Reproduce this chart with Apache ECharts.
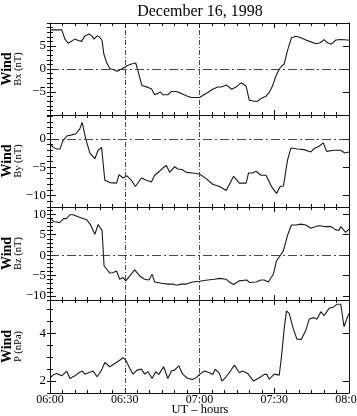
<!DOCTYPE html>
<html>
<head>
<meta charset="utf-8">
<script src="https://cdn.jsdelivr.net/npm/echarts@6/dist/echarts.min.js"></script>
<style>
    html, body { margin: 0; padding: 0; background: #fff; overflow: hidden; }
    #main { width: 357px; height: 416px; }
</style>
</head>
<body>
<div id="main"></div>
<script type="text/javascript">
    // minutes after 06:00 UT
    var bxTime = [0, 4.7, 6, 7.3, 10, 11.3, 12.7, 14, 15.7, 17, 17.7, 18.9, 20, 20.9, 21.6, 22.7, 24, 25.3, 26.9, 28.3, 30, 30.9, 32.7, 34.4, 35.3, 36.9, 39.3, 40.7, 42, 43.3, 44.3, 45.3, 47.3, 48.7, 50.7, 52.7, 54.7, 56.7, 60, 63.3, 65.3, 67.3, 68.7, 70.9, 72.9, 74.7, 76.7, 78.7, 80, 82, 83.3, 84.7, 86.7, 88, 89.3, 90.7, 92, 92.9, 94, 95.3, 96.9, 98.7, 100.7, 102.7, 104.7, 106.7, 108.4, 110, 111.3, 112.9, 114.7, 116.7, 119.3, 120];
    var bxValue = [8.5, 8.5, 6.5, 5.6, 6.5, 6.2, 6.0, 7.2, 7.6, 7.1, 6.5, 7.2, 6.9, 6.2, 3.3, 1.4, 0.1, -0.1, -0.5, -0.1, 0.4, 0.7, 1.1, 1.3, -0.4, -3.6, -4.0, -4.3, -5.6, -5.3, -5.0, -5.6, -5.6, -4.9, -4.9, -5.3, -5.8, -6.2, -6.2, -5.1, -4.4, -3.9, -3.9, -3.5, -4.4, -3.9, -3.0, -3.7, -6.8, -7.0, -7.0, -6.4, -5.9, -5.1, -3.7, -1.5, 0, 0.6, 1.1, 4.0, 6.8, 7.1, 6.8, 6.3, 5.9, 5.5, 5.7, 6.4, 5.7, 5.4, 6.3, 6.4, 6.3, 6.3];

    var byTime = [0, 1.3, 2.7, 4, 5.1, 6.7, 8.7, 10.4, 12, 12.9, 14.3, 16, 18, 19.3, 20.7, 22, 24, 26.7, 27.7, 29.3, 30.9, 32.7, 34.3, 36.7, 38.7, 40.7, 42, 44, 45.6, 46.7, 48, 50, 51.3, 53, 54.7, 57.3, 60, 62.7, 65.3, 68, 70.7, 73.7, 76, 78.7, 79.7, 81.3, 82.7, 84.7, 86.7, 88.9, 90.9, 92.4, 93.7, 95.3, 96.7, 99.3, 102, 104.7, 106, 108, 109.7, 111, 114, 116.7, 118.3, 120];
    var byValue = [-0.8, -1.5, -1.8, -1.8, -0.4, 0.5, 0.7, 0.9, 1.8, 2.9, 0.1, -2.5, -3.5, -2.0, -1.5, -7.3, -7.7, -7.8, -6.3, -6.9, -6.5, -7.3, -8.4, -6.9, -7.3, -7.6, -6.4, -5.7, -5.0, -4.7, -5.9, -4.9, -5.3, -5.4, -5.9, -6.0, -6.2, -7.0, -8.0, -8.4, -9.1, -6.6, -7.8, -7.8, -6.0, -6.0, -5.7, -6.4, -6.4, -8.4, -9.6, -8.4, -8.3, -3.8, -1.6, -1.8, -1.9, -2.3, -1.7, -1.3, -0.7, -2.2, -2.0, -2.0, -2.5, -2.3];

    var bzTime = [0, 1.6, 4, 5.3, 6.7, 8, 9.3, 11.3, 13.3, 14.7, 16.3, 18, 19.3, 20.9, 21.7, 22.7, 24, 25.1, 26.7, 28, 29.3, 30.4, 32, 34, 36, 38, 39.7, 41, 42, 44.7, 47.3, 49.3, 50.7, 52.7, 54.7, 57.3, 60, 63.3, 66, 68, 70.7, 72, 73.7, 76, 79, 80, 82.7, 84.7, 86, 87.6, 89.6, 90.9, 92.3, 93.7, 95.3, 96.9, 98.7, 100.7, 102.7, 104.7, 106.7, 108, 110.3, 112.7, 114.7, 116, 116.7, 118.7, 120];
    var bzValue = [9.0, 8.2, 8.0, 8.9, 9.0, 9.9, 9.9, 9.4, 9.0, 8.7, 7.4, 5.1, 7.5, 6.0, -2.6, -3.4, -4.4, -4.3, -3.9, -5.9, -5.5, -6.3, -5.1, -3.6, -5.1, -5.9, -6.1, -4.7, -6.6, -6.9, -7.1, -7.1, -7.4, -7.1, -7.1, -6.6, -6.4, -6.1, -5.9, -5.7, -5.9, -6.6, -7.2, -6.3, -6.1, -6.7, -6.6, -6.1, -6.1, -6.6, -4.7, -1.4, -0.2, 1.1, 4.8, 7.4, 7.4, 7.6, 7.4, 6.6, 7.0, 7.2, 7.0, 7.0, 6.2, 6.1, 7.0, 5.6, 6.4];

    var pTime = [0, 1.6, 2.7, 4.7, 6.7, 8, 10, 11.7, 13, 14, 15.7, 17.3, 18.9, 20.7, 22, 24, 26, 27.7, 29.3, 30.4, 31.7, 33.3, 34.9, 36.7, 38, 39.3, 41, 42.4, 43.7, 45.6, 47.3, 48.7, 50, 51.7, 53.3, 55.3, 57.1, 58.7, 60, 62, 64, 65.3, 66.3, 68, 69, 70.7, 72.4, 74, 76, 77.3, 79.3, 81.7, 84, 86, 87.1, 88, 90, 92, 92.9, 94, 94.9, 96, 97.6, 99.1, 100.9, 102.7, 104, 106, 107.1, 108.7, 110, 112, 114, 115.1, 116.7, 118, 119.3, 120];
    var pValue = [2.14, 2.28, 2.32, 2.22, 2.42, 2.11, 2.22, 2.36, 2.42, 2.29, 2.36, 2.42, 2.18, 2.46, 2.78, 2.6, 2.74, 2.85, 2.98, 2.88, 2.6, 2.29, 2.46, 2.5, 2.29, 2.39, 2.11, 2.39, 2.28, 2.6, 2.11, 2.42, 2.46, 2.64, 2.28, 2.11, 2.07, 2.14, 2.28, 2.42, 2.35, 2.28, 2.5, 2.32, 2.0, 2.18, 2.42, 2.67, 2.35, 2.42, 2.32, 2.0, 2.14, 2.28, 2.28, 2.08, 2.29, 2.25, 3.02, 4.21, 4.94, 4.84, 4.21, 3.76, 3.75, 4.14, 4.6, 4.66, 4.59, 4.91, 4.74, 5.05, 5.12, 5.22, 5.22, 4.28, 4.66, 4.84];

    var panelNames = ['Bx (nT)', 'By (nT)', 'Bz (nT)', 'P (nPa)'];
    var xTickLabels = ['06:00', '06:30', '07:00', '07:30', '08:00'];
    var markTimes = [30, 60];

    var FONT = 'Liberation Serif, Times New Roman, serif';
    var panels = [
        { top: 23, height: 92, min: -10, max: 10, split: 4, step: 1, t: bxTime, v: bxValue, zero: true },
        { top: 115, height: 92, min: -12, max: 4.2, split: 3, step: 1, t: byTime, v: byValue, zero: true },
        { top: 207, height: 93, min: -11, max: 11.8, split: 4, step: 1, t: bzTime, v: bzValue, zero: true },
        { top: 300, height: 93, min: 1.5, max: 5.4, split: 2, step: 0.5, t: pTime, v: pValue, zero: false }
    ];

    var chart = echarts.init(document.getElementById('main'), null, { renderer: 'canvas', width: 357, height: 416 });

    var grid = [], xAxis = [], yAxis = [], series = [], graphic = [];
    var lineCol = '#111';

    function minus(v) { return String(v).replace('-', '\u2212'); }

    panels.forEach(function (p, i) {
        grid.push({ left: 50, width: 299, top: p.top, height: p.height, containLabel: false, outerBoundsMode: 'none' });

        ['bottom', 'top'].forEach(function (pos) {
            xAxis.push({
                gridIndex: i, type: 'value', position: pos, min: 0, max: 120, interval: 30,
                axisLine: { show: true, onZero: false, lineStyle: { color: lineCol, width: 1 } },
                axisTick: { show: true, inside: true, length: 5, lineStyle: { color: lineCol } },
                minorTick: { show: true, splitNumber: 6, length: 3, lineStyle: { color: lineCol } },
                splitLine: { show: false },
                axisLabel: {
                    show: (i === 3 && pos === 'bottom'), margin: 1, color: '#000',
                    fontFamily: FONT, fontSize: 12, alignMinLabel: 'center', alignMaxLabel: 'center',
                    hideOverlap: false,
                    formatter: function (v) { return xTickLabels[Math.round(v / 30)]; }
                }
            });
        });

        ['left', 'right'].forEach(function (pos) {
            // major ticks + labels
            yAxis.push({
                gridIndex: i, type: 'value', position: pos, min: p.min, max: p.max, splitNumber: p.split,
                axisLine: { show: true, onZero: false, lineStyle: { color: lineCol, width: 1 } },
                axisTick: { show: true, inside: true, length: 6, lineStyle: { color: lineCol } },
                splitLine: { show: false },
                axisLabel: {
                    show: pos === 'left', showMinLabel: false, showMaxLabel: false, margin: 4,
                    color: '#000', fontFamily: FONT, fontSize: 13, formatter: minus
                }
            });
            // minor ticks
            yAxis.push({
                gridIndex: i, type: 'value', position: pos, min: p.min, max: p.max, interval: p.step,
                axisLine: { show: false },
                axisTick: { show: true, inside: true, length: 3, lineStyle: { color: lineCol } },
                splitLine: { show: false },
                axisLabel: { show: false }
            });
        });

        var vStyle = { type: [5, 2, 1, 2], color: '#333', width: 0.9 };
        var hStyle = { type: [9, 3, 2, 3], color: '#333', width: 0.9 };
        var mdata = markTimes.map(function (t) { return { xAxis: t, lineStyle: vStyle }; });
        if (p.zero) mdata.push({ yAxis: 0, lineStyle: hStyle });

        series.push({
            type: 'line',
            xAxisIndex: i * 2,
            yAxisIndex: i * 4,
            data: p.t.map(function (t, k) { return [t, p.v[k]]; }),
            showSymbol: false,
            lineStyle: { color: '#1a1a1a', width: 1.1 },
            animation: false,
            markLine: {
                silent: true, symbol: ['none', 'none'], label: { show: false },
                animation: false, data: mdata
            }
        });

        var cy = p.top + p.height / 2;
        graphic.push({
            type: 'text', x: 7, y: cy, rotation: Math.PI / 2,
            style: { text: 'Wind', fill: '#000', font: 'bold 14px ' + FONT, textAlign: 'center', textVerticalAlign: 'middle' }
        });
        graphic.push({
            type: 'text', x: 18, y: cy, rotation: Math.PI / 2,
            style: { text: panelNames[i], fill: '#000', font: '10.5px ' + FONT, textAlign: 'center', textVerticalAlign: 'middle' }
        });
    });

    graphic.push({
        type: 'text', x: 200, y: 12,
        style: { text: 'December 16, 1998', fill: '#000', font: '16px ' + FONT, textAlign: 'center', textVerticalAlign: 'middle' }
    });
    graphic.push({
        type: 'text', x: 200, y: 410,
        style: { text: 'UT \u2013 hours', fill: '#000', font: '12.5px ' + FONT, textAlign: 'center', textVerticalAlign: 'middle' }
    });

    var option = {
        backgroundColor: '#fff',
        animation: false,
        grid: grid,
        xAxis: xAxis,
        yAxis: yAxis,
        series: series,
        graphic: graphic
    };
    chart.setOption(option);
</script>
</body>
</html>
